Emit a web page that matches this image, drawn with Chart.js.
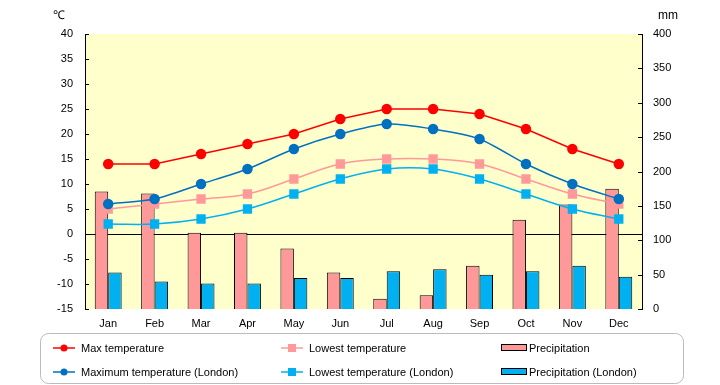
<!DOCTYPE html>
<html>
<head>
<meta charset="utf-8">
<script src="https://cdn.jsdelivr.net/npm/chart.js@4"></script>
<style>
  html, body { margin: 0; padding: 0; background: #fff; }
  #wrap { width: 720px; height: 385px; }
</style>
</head>
<body>
<div id="wrap"><canvas id="climateChart" width="720" height="385"></canvas></div>
<script>
const months = ["Jan", "Feb", "Mar", "Apr", "May", "Jun", "Jul", "Aug", "Sep", "Oct", "Nov", "Dec"];
const maxTemp = [14, 14, 16, 18, 20, 23, 25, 25, 24, 21, 17, 14];
const lowTemp = [5, 6, 7, 8, 11, 14, 15, 15, 14, 11, 8, 6];
const maxTempLondon = [6, 7, 10, 13, 17, 20, 22, 21, 19, 14, 10, 7];
const lowTempLondon = [2, 2, 3, 5, 8, 11, 13, 13, 11, 8, 5, 3];
const precip = [171, 168, 111, 111, 88, 53, 15, 20, 63, 130, 152, 175];
const precipLondon = [53, 40, 37, 37, 45, 45, 55, 58, 50, 55, 63, 47];
const tempTicks = { min: -15, max: 40, step: 5 };
const precipTicks = { min: 0, max: 400, step: 50 };

const FONT = "Liberation Sans";

// sfondo giallo dell'area del grafico
const plotBg = {
  id: "plotBg",
  beforeDraw(chart) {
    const a = chart.chartArea, c = chart.ctx;
    c.save();
    c.fillStyle = "#FFFFCC";
    c.fillRect(a.left, a.top, a.right - a.left, a.bottom - a.top);
    c.restore();
  }
};

// tacche interne + unità
const innerTicks = {
  id: "innerTicks",
  afterDraw(chart) {
    const c = chart.ctx, a = chart.chartArea;
    c.save();
    c.strokeStyle = "#000";
    c.lineWidth = 1;
    const y = chart.scales.y, y1 = chart.scales.y1;
    y.ticks.forEach(t => {
      const p = Math.round(y.getPixelForValue(t.value)) + 0.5;
      c.beginPath(); c.moveTo(a.left, p); c.lineTo(a.left + 4, p); c.stroke();
    });
    y1.ticks.forEach(t => {
      const p = Math.round(y1.getPixelForValue(t.value)) + 0.5;
      c.beginPath(); c.moveTo(a.right, p); c.lineTo(a.right - 4, p); c.stroke();
    });
    c.fillStyle = "#000";
    c.font = "12px " + FONT;
    c.textBaseline = "middle";
    c.textAlign = "left";
    c.fillText("℃", 53, 16);
    c.fillText("mm", 658, 16);
    c.restore();
  }
};

// legenda a tre colonne
const boxLegend = {
  id: "boxLegend",
  afterDraw(chart) {
    const c = chart.ctx;
    c.save();
    c.strokeStyle = "#BBBBBB";
    c.lineWidth = 1;
    c.beginPath();
    c.roundRect(40.5, 333.5, 643, 50, 8);
    c.stroke();
    const cols = [53, 281, 501];
    const rows = [348, 372];
    const layout = [[0, 2, 4], [1, 3, 5]];
    c.font = "11px " + FONT;
    c.textBaseline = "middle";
    layout.forEach((row, r) => row.forEach((di, ci) => {
      const ds = chart.data.datasets[di];
      const x = cols[ci], yy = rows[r];
      if (ds.type === "bar") {
        c.fillStyle = ds.backgroundColor;
        c.fillRect(x, yy - 4, 26, 7);
        c.strokeStyle = "#000";
        c.lineWidth = 1;
        c.strokeRect(x + 0.5, yy - 3.5, 25, 6);
      } else {
        c.strokeStyle = ds.borderColor;
        c.lineWidth = 1.5;
        c.beginPath(); c.moveTo(x, yy); c.lineTo(x + 22, yy); c.stroke();
        c.fillStyle = ds.pointBackgroundColor;
        if (ds.pointStyle === "rect") {
          c.fillRect(x + 7, yy - 4, 8, 8);
        } else {
          c.beginPath(); c.arc(x + 11, yy, 3.5, 0, Math.PI * 2); c.fill();
        }
      }
      c.fillStyle = "#000";
      c.fillText(ds.label, x + 28, yy + 1);
    }));
    c.restore();
  }
};

const ctx = document.getElementById("climateChart").getContext("2d");
new Chart(ctx, {
  data: {
    labels: months,
    datasets: [
      { type: "line", label: "Max temperature", data: maxTemp, yAxisID: "y", order: 1,
        borderColor: "#FF0000", pointBackgroundColor: "#FF0000", pointBorderColor: "#FF0000",
        borderWidth: 1.5, pointRadius: 4.5, pointStyle: "circle", tension: 0 },
      { type: "line", label: "Maximum temperature (London)", data: maxTempLondon, yAxisID: "y", order: 1,
        borderColor: "#0070C0", pointBackgroundColor: "#0070C0", pointBorderColor: "#0070C0",
        borderWidth: 1.5, pointRadius: 4.5, pointStyle: "circle", tension: 0.25 },
      { type: "line", label: "Lowest temperature", data: lowTemp, yAxisID: "y", order: 1,
        borderColor: "#FF9999", pointBackgroundColor: "#FF9999", pointBorderColor: "#FF9999",
        borderWidth: 1.5, pointRadius: 5.5, pointStyle: "rect", tension: 0.4 },
      { type: "line", label: "Lowest temperature (London)", data: lowTempLondon, yAxisID: "y", order: 1,
        borderColor: "#00B0F0", pointBackgroundColor: "#00B0F0", pointBorderColor: "#00B0F0",
        borderWidth: 1.5, pointRadius: 5.5, pointStyle: "rect", tension: 0.4 },
      { type: "bar", label: "Precipitation", data: precip, yAxisID: "y1", order: 2,
        backgroundColor: "#FF9999", borderColor: "#000", borderWidth: 1,
        barPercentage: 1, categoryPercentage: 0.58 },
      { type: "bar", label: "Precipitation (London)", data: precipLondon, yAxisID: "y1", order: 2,
        backgroundColor: "#00B0F0", borderColor: "#000", borderWidth: 1,
        barPercentage: 1, categoryPercentage: 0.58 }
    ]
  },
  options: {
    responsive: false,
    animation: false,
    layout: { padding: { top: 34, bottom: 51, left: 0, right: 0 } },
    plugins: { legend: { display: false }, tooltip: { enabled: false } },
    scales: {
      x: {
        grid: { display: false },
        border: { display: false },
        ticks: { color: "#000", font: { family: FONT, size: 11 }, padding: 0, maxRotation: 0 },
        afterFit: s => { s.height = 25; }
      },
      y: {
        position: "left",
        min: tempTicks.min, max: tempTicks.max,
        ticks: { stepSize: tempTicks.step, color: "#000", font: { family: FONT, size: 11 }, padding: 12 },
        grid: { drawTicks: false, color: c => c.tick && c.tick.value === 0 ? "#000" : "rgba(0,0,0,0)", lineWidth: 1 },
        border: { display: true, color: "#000", width: 1 },
        afterFit: s => { s.width = 85; }
      },
      y1: {
        position: "right",
        min: precipTicks.min, max: precipTicks.max,
        ticks: { stepSize: precipTicks.step, color: "#000", font: { family: FONT, size: 11 }, padding: 11 },
        grid: { display: false, drawTicks: false },
        border: { display: true, color: "#000", width: 1 },
        afterFit: s => { s.width = 78; }
      }
    }
  },
  plugins: [plotBg, innerTicks, boxLegend]
});
</script>
</body>
</html>
